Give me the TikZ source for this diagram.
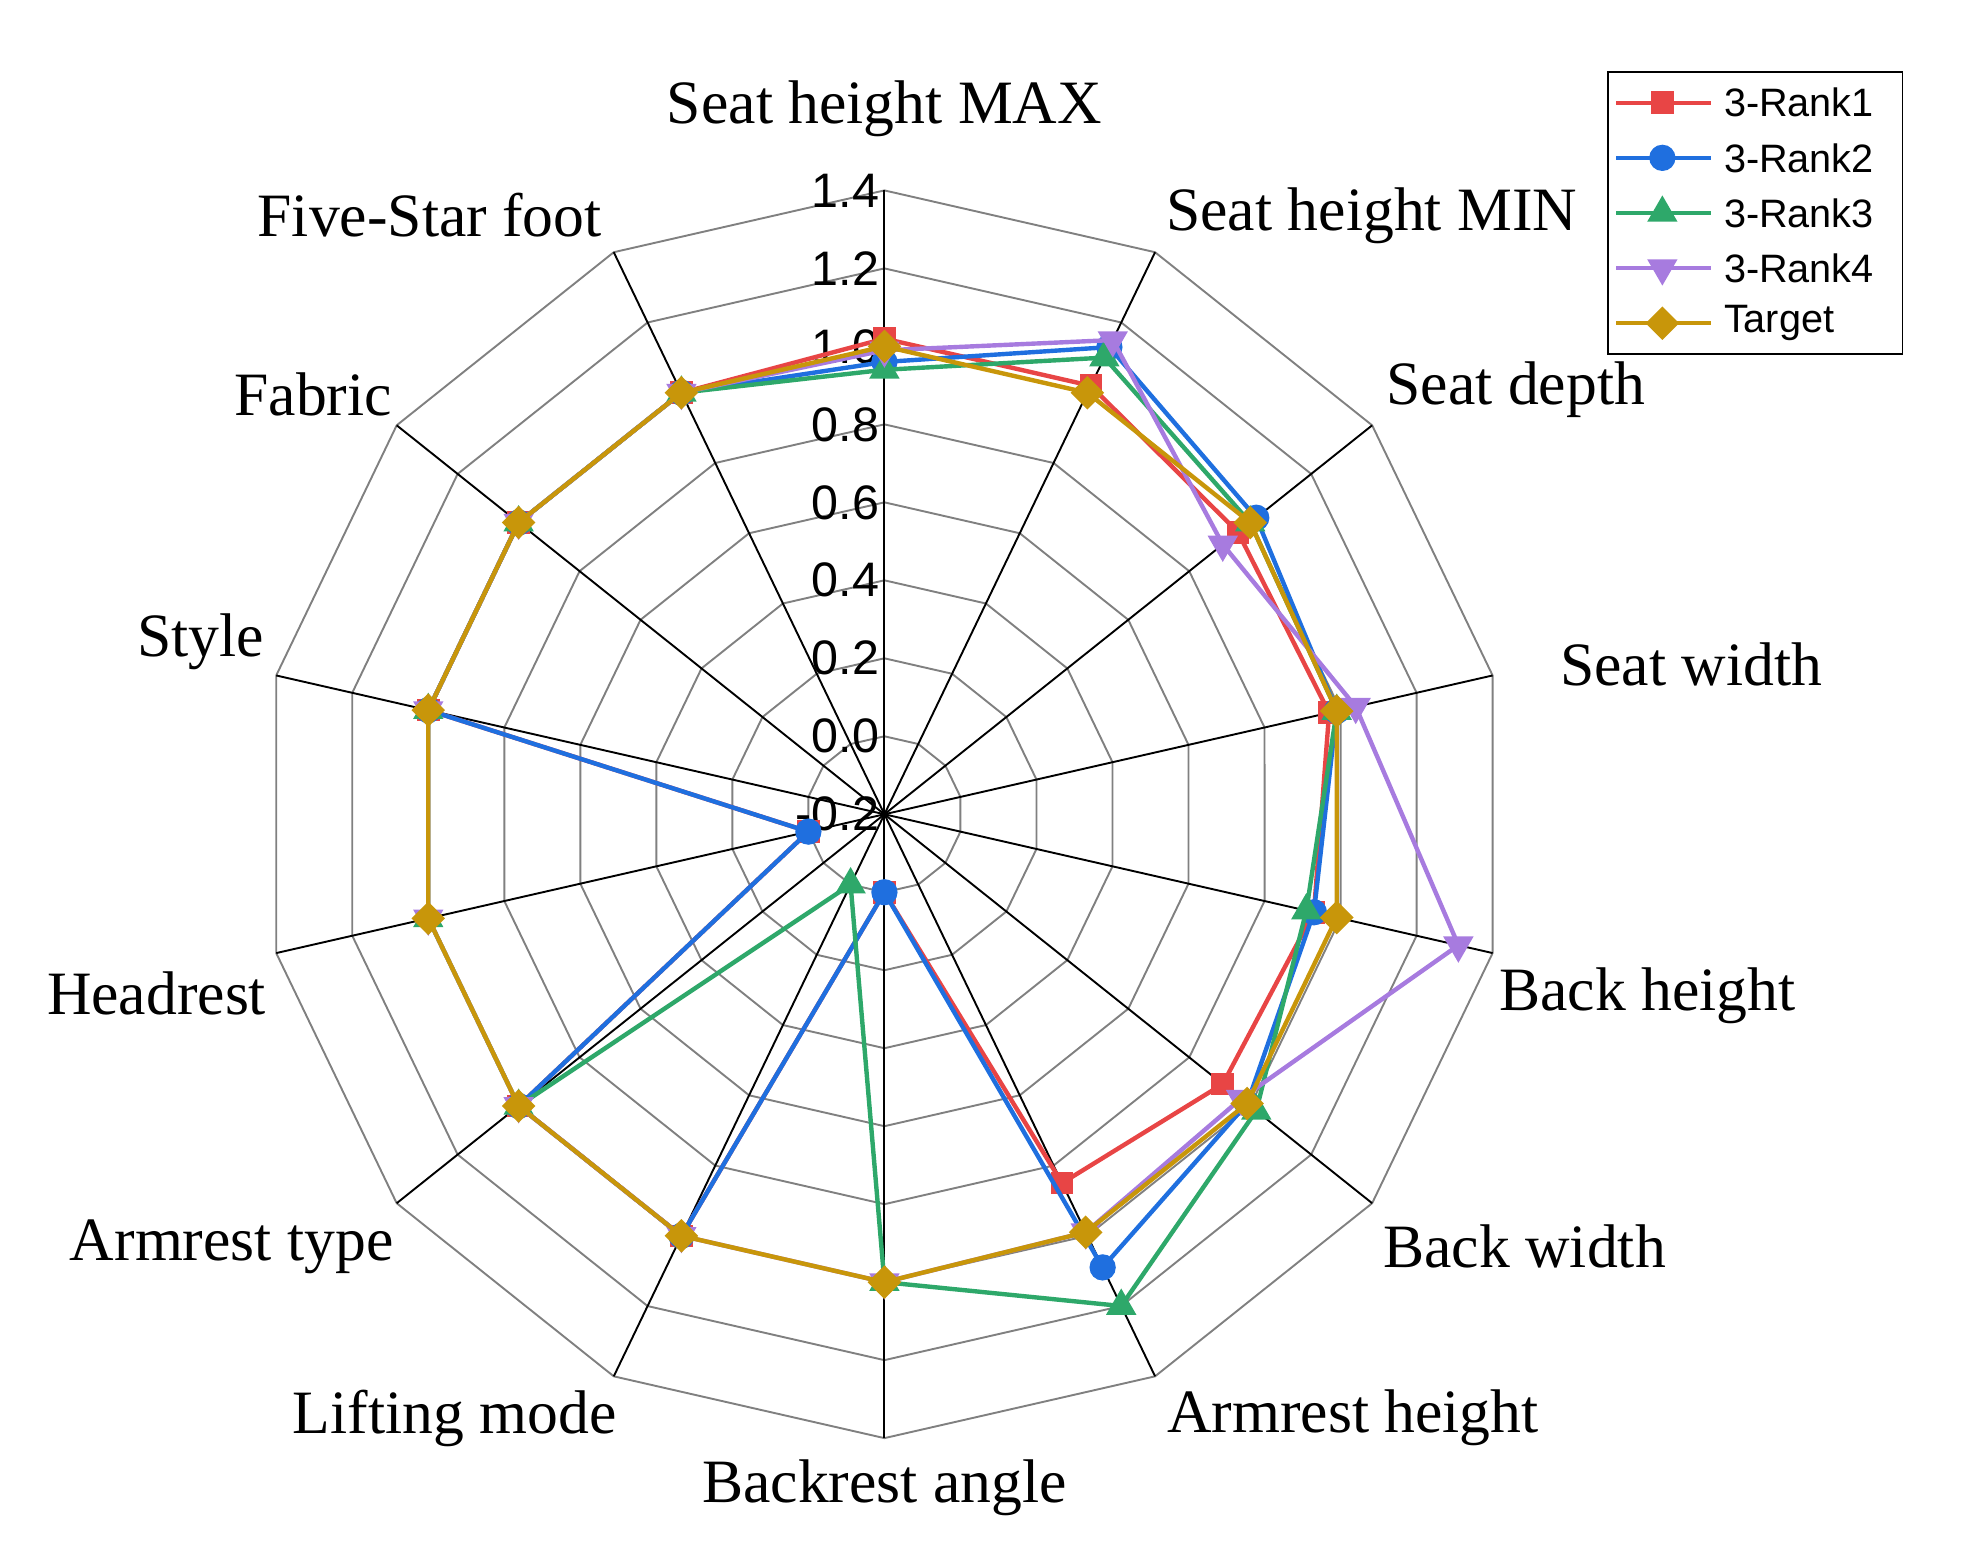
\documentclass[tikz,border=0pt]{standalone}
\usepackage{fontspec}
\setmainfont{Liberation Serif}
\setsansfont{Liberation Sans}
\usetikzlibrary{shapes.geometric}
\definecolor{cR}{HTML}{E84545}
\definecolor{cB}{HTML}{1F6FDF}
\definecolor{cG}{HTML}{2EA86A}
\definecolor{cP}{HTML}{A77BDF}
\definecolor{cT}{HTML}{C8960A}
\begin{document}
\begin{tikzpicture}[x=0.03cm,y=-0.03cm,
  grid/.style={draw=black!50,line width=1.3pt},
  axis/.style={draw=black,line width=1.3pt},
  lab/.style={font=\fontsize{42}{46}\selectfont},
  tick/.style={font=\sffamily\fontsize{33}{36}\selectfont,anchor=east,inner sep=0pt},
  leg/.style={font=\sffamily\fontsize{27}{30}\selectfont,anchor=west,inner sep=0pt},
  ser/.style={line width=3pt,line join=round},
  mR/.style={rectangle,fill=cR,minimum size=18*0.03cm,inner sep=0pt},
  mB/.style={circle,fill=cB,minimum size=21*0.03cm,inner sep=0pt},
  mG/.style={regular polygon,regular polygon sides=3,fill=cG,minimum size=28*0.03cm,inner sep=0pt},
  mP/.style={regular polygon,regular polygon sides=3,shape border rotate=180,fill=cP,minimum size=28*0.03cm,inner sep=0pt},
  mT/.style={diamond,fill=cT,minimum size=27*0.03cm,inner sep=0pt},
]
\useasboundingbox (0,0) rectangle (1567,1234);
% grid rings
\foreach \k in {1,...,8}{
  \pgfmathsetmacro\RR{\k*62.25}
  \draw[grid] (706,{650-\RR}) \foreach \i in {1,...,13}{ -- ({706+\RR*cos(90-\i*360/14)},{650-\RR*sin(90-\i*360/14)}) } -- cycle;
}
\coordinate (C) at (706,650);
\foreach \i in {0,...,13}{
  \coordinate (ax\i) at ({706+498*cos(90-\i*360/14)},{650-498*sin(90-\i*360/14)});
  \draw[axis] (C) -- (ax\i);
}
% ticks
\foreach \t [count=\j from 0] in {-0.2,0.0,0.2,0.4,0.6,0.8,1.0,1.2,1.4}{
  \node[tick] (t\j) at (702,{650-\j*62.25}) {\t};
}
% series
\newcommand\plotser[3]{%
  \foreach \v [count=\i from 0] in {#2}{
    \pgfmathsetmacro\a{90-\i*360/14}
    \pgfmathsetmacro\R{(\v+0.2)/1.6*498}
    \coordinate (#1-\i) at ({706+\R*cos(\a)},{650-\R*sin(\a)});
  }
  \draw[ser,draw=#3] (#1-0) \foreach \i in {1,...,13}{ -- (#1-\i)} -- cycle;
}
\newcommand\putmk[2]{\foreach \i in {0,...,13}{\node[#2] (#1m\i) at (#1-\i) {};}}
\plotser{sA}{1.02,1.02,0.96,0.97,0.93,0.91,0.85,0,1,1,0,1,1,1}{cR}
\putmk{sA}{mR}
\plotser{sB}{0.96,1.13,1.02,0.99,0.93,0.99,1.09,0,1,1,0,1,1,1}{cB}
\putmk{sB}{mB}
\plotser{sC}{0.94,1.10,1.0,0.99,0.91,1.02,1.2,1,0,1,1,1,1,1}{cG}
\putmk{sC}{mG}
\plotser{sD}{0.99,1.15,0.91,1.04,1.31,0.97,0.99,1,1,1,1,1,1,1}{cP}
\putmk{sD}{mP}
\plotser{sE}{1,1,1,0.99,0.99,0.99,0.99,1,1,1,1,1,1,1}{cT}
\putmk{sE}{mT}
% axis labels
\node[lab] (L0) at (706,87) {Seat height MAX};
\node[lab] (L1) at (1095,172) {Seat height MIN};
\node[lab] (L2) at (1210,311) {Seat depth};
\node[lab] (L3) at (1350,530) {Seat width};
\node[lab] (L4) at (1315,795) {Back height};
\node[lab] (L5) at (1217,995) {Back width};
\node[lab] (L6) at (1080,1132) {Armrest height};
\node[lab] (L7) at (706,1188) {Backrest angle};
\node[lab] (L8) at (363,1132) {Lifting mode};
\node[lab] (L9) at (185,995) {Armrest type};
\node[lab] (L10) at (125,793) {Headrest};
\node[lab] (L11) at (160,512) {Style};
\node[lab] (L12) at (250,315) {Fabric};
\node[lab] (L13) at (343,172) {Five-Star foot};
% legend
\node[draw=black,line width=1pt,minimum width=235*0.03cm,minimum height=225*0.03cm,anchor=north west,inner sep=0pt] (leg) at (1283,57) {};
\foreach \n/\c/\m [count=\j from 0] in {3-Rank1/cR/mR,3-Rank2/cB/mB,3-Rank3/cG/mG,3-Rank4/cP/mP,Target/cT/mT}{
  \coordinate (la\j) at (1290,{82+\j*44});
  \coordinate (lb\j) at (1366,{82+\j*44});
  \draw[ser,draw=\c] (la\j) -- (lb\j);
  \node[\m] (lm\j) at (1327,{82+\j*44}) {};
  \node[leg] (lt\j) at (1376,{82+\j*44}) {\n};
}
\end{tikzpicture}
\end{document}
